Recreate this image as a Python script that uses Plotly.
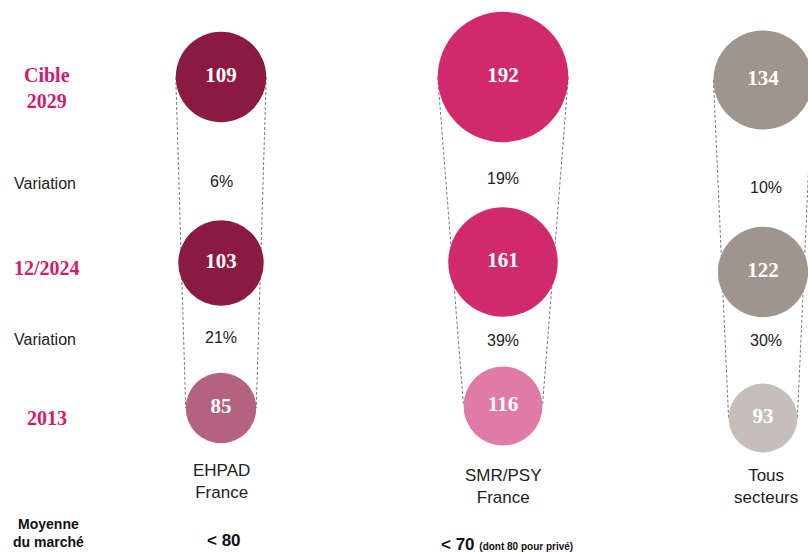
import plotly.graph_objects as go

# ---------------- data ----------------
categories = ["EHPAD<br>France", "SMR/PSY<br>France", "Tous<br>secteurs"]
values_2029 = [109, 192, 134]
values_2024 = [103, 161, 122]
values_2013 = [85, 116, 93]
var_2024_2029 = ["6%", "19%", "10%"]
var_2013_2024 = ["21%", "39%", "30%"]
row_labels = ["Cible<br>2029", "12/2024", "2013"]
variation_label = "Variation"
market_label = "Moyenne<br>du marché"
market_avg = ["&lt; 80", "&lt; 70", ""]
market_note = ["", "(dont 80 pour privé)", ""]

# ---------------- layout / style ----------------
W, H = 808, 553
COL_X = [221, 503, 763]
TXT_X = [221, 503, 766]
Y_2029 = [77, 77, 80]
Y_2024 = [263, 262, 272]
Y_2013 = [408, 406, 418]
Y_VAR1 = [181, 178, 187]
Y_VAR2 = [337, 340, 340]
Y_CAT = [481, 486, 486]
ROW_Y = [88, 268, 418]
VAR_Y = [183, 339]
SCALE = [0.83, 0.68, 0.74]
COL_MAIN = ["#8b1a42", "#d02a6c", "#a0958e"]
COL_LIGHT = ["#b3627f", "#e07aa6", "#c5bebb"]
MAGENTA = "#d01c6a"
SANS = "Liberation Sans, Arial, sans-serif"
SERIF = "Liberation Serif, Times New Roman, serif"

fig = go.Figure()

# dashed connecting lines (behind circles)
for i in range(3):
    r_top = values_2029[i] * SCALE[i] / 2
    r_bot = values_2013[i] * SCALE[i] / 2
    xs = [COL_X[i] - r_top, COL_X[i] - r_bot, None, COL_X[i] + r_top, COL_X[i] + r_bot]
    ys = [Y_2029[i], Y_2013[i], None, Y_2029[i], Y_2013[i]]
    fig.add_trace(go.Scatter(x=xs, y=ys, mode="lines",
                             line=dict(color="#7a7a7a", width=1, dash="3px,2px"),
                             hoverinfo="skip", showlegend=False))

# circles
for i in range(3):
    vals = [values_2029[i], values_2024[i], values_2013[i]]
    ys = [Y_2029[i], Y_2024[i], Y_2013[i]]
    fig.add_trace(go.Scatter(
        x=[COL_X[i]] * 3, y=ys, mode="markers+text",
        marker=dict(size=[v * SCALE[i] for v in vals],
                    color=[COL_MAIN[i], COL_MAIN[i], COL_LIGHT[i]],
                    line=dict(width=0), opacity=1),
        text=[f"<b>{v}</b>" for v in vals], textposition="middle center",
        textfont=dict(family=SERIF, size=21, color="white"),
        hoverinfo="skip", showlegend=False))

annotations = []
# row labels
for lab, y in zip(row_labels, ROW_Y):
    annotations.append(dict(x=47, y=y, text=f"<b>{lab}</b>", showarrow=False,
                            font=dict(family=SERIF, size=20, color=MAGENTA)))
for y in VAR_Y:
    annotations.append(dict(x=45, y=y, text=variation_label, showarrow=False,
                            font=dict(family=SANS, size=16, color="#222222")))
# variations and category labels
for i in range(3):
    annotations.append(dict(x=TXT_X[i], y=Y_VAR1[i], text=var_2024_2029[i],
                            showarrow=False, font=dict(family=SANS, size=16, color="#222222")))
    annotations.append(dict(x=TXT_X[i], y=Y_VAR2[i], text=var_2013_2024[i],
                            showarrow=False, font=dict(family=SANS, size=16, color="#222222")))
    annotations.append(dict(x=TXT_X[i], y=Y_CAT[i], text=categories[i],
                            showarrow=False, font=dict(family=SANS, size=17, color="#222222")))

# market averages
annotations.append(dict(x=48, y=533, text=f"<b>{market_label}</b>", showarrow=False,
                        font=dict(family=SANS, size=14, color="#111111")))
annotations.append(dict(x=224, y=540, text=f"<b>{market_avg[0]}</b>", showarrow=False,
                        font=dict(family=SANS, size=17, color="#111111")))
annotations.append(dict(x=439, y=544, xanchor="left",
                        text=f"<b>{market_avg[1]}</b> <b><span style='font-size:10px'>{market_note[1]}</span></b>",
                        showarrow=False, font=dict(family=SANS, size=17, color="#111111")))

fig.update_layout(
    width=W, height=H, margin=dict(l=0, r=0, t=0, b=0),
    paper_bgcolor="white", plot_bgcolor="white",
    xaxis=dict(range=[0, W], visible=False, fixedrange=True),
    yaxis=dict(range=[H, 0], visible=False, fixedrange=True),
    annotations=annotations, showlegend=False,
)

fig.write_html("out.html", config={"displayModeBar": False},
               post_script="document.body.style.margin='0';document.body.style.overflow='hidden';")
